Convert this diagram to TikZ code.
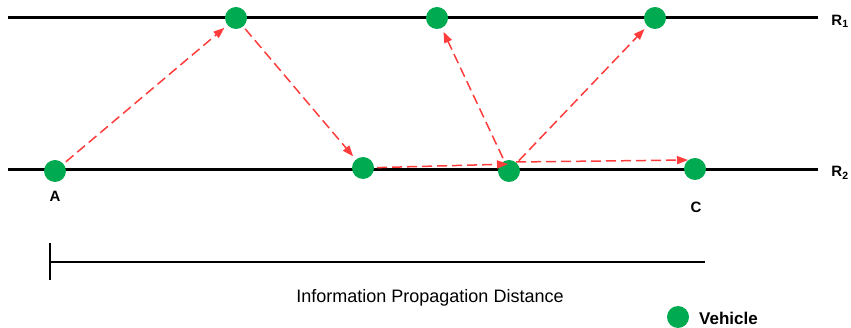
\documentclass[tikz,border=0pt]{standalone}
\usepackage{fontspec}
\setmainfont{Liberation Sans}
\usetikzlibrary{arrows.meta}
\definecolor{veh}{RGB}{0,170,80}
\definecolor{msg}{RGB}{255,60,60}
\begin{document}
\begin{tikzpicture}[x=1pt,y=-1pt,
  road/.style={line width=3pt,black},
  vehicle/.style={circle,fill=veh,minimum size=22pt,inner sep=0pt},
  hop/.style={msg,line width=1.5pt,dash pattern=on 10pt off 5pt,-{Triangle[length=11pt,width=8pt]},shorten <=3pt,shorten >=4pt},
  lbl/.style={font=\bfseries\fontsize{15}{17}\selectfont,inner sep=0pt}]
\useasboundingbox (0,0) rectangle (851,328);
\draw[road] (8,18) -- (818,18);
\draw[road] (8,170) -- (818,170);
\node[lbl] (r1) at (840,21) {R\textsubscript{1}};
\node[lbl] (r2) at (840,173) {R\textsubscript{2}};
\node[vehicle] (a) at (55,171) {};
\node[vehicle] (t1) at (236,18) {};
\node[vehicle] (t2) at (437,18) {};
\node[vehicle] (t3) at (655,18) {};
\node[vehicle] (b2) at (363,168) {};
\node[vehicle] (b3) at (509,171) {};
\node[vehicle] (c) at (695,169) {};
\node[lbl] (la) at (55,196) {A};
\node[lbl] (lc) at (696,207) {C};
\coordinate (b3in) at (512,164);
\coordinate (b3out) at (516,162);
\coordinate (cin) at (688,160);
\draw[hop] (b2) -- (b3in);
\draw[hop,shorten <=0pt,shorten >=0pt] (b3out) -- (cin);
\draw[hop] (a) -- (t1);
\draw[hop] (t1) -- (b2);
\draw[hop] (b3) -- (t2);
\draw[hop] (b3) -- (t3);
\draw[line width=1.2pt] (50,243) -- (50,280);
\draw[line width=1.5pt] (50,262) -- (705,262);
\node[font=\fontsize{18}{20}\selectfont,inner sep=0pt] (dist) at (430,298) {Information Propagation Distance};
\node[vehicle] (leg) at (678,317) {};
\node[lbl,anchor=west,font=\bfseries\fontsize{17}{19}\selectfont] (legt) at (699,318) {Vehicle};
\end{tikzpicture}
\end{document}
